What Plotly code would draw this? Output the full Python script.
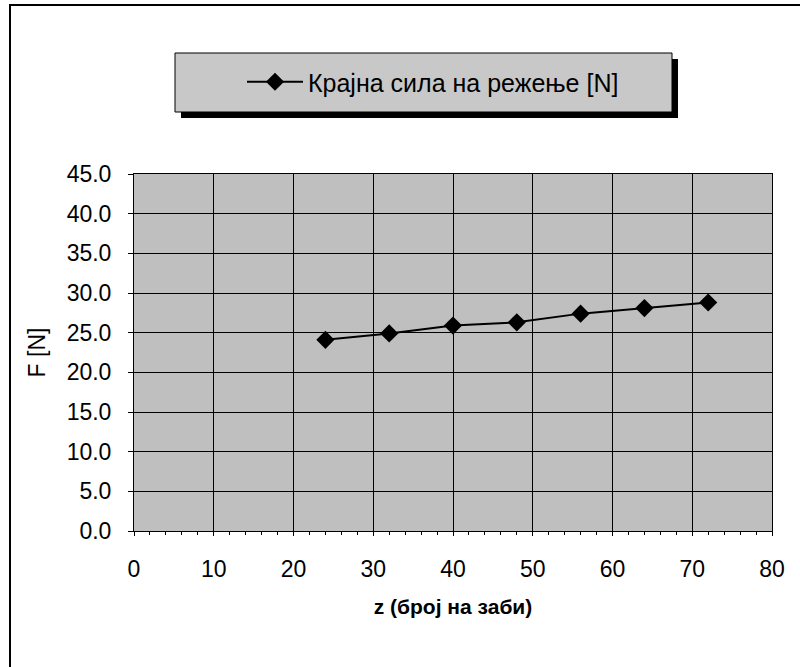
import plotly.graph_objects as go

# Data
z_teeth = [24, 32, 40, 48, 56, 64, 72]
force_n = [24.1, 24.9, 25.9, 26.3, 27.4, 28.1, 28.8]
series_name = "Крајна сила на режење [N]"
x_title = "z (број на заби)"
y_title = "F [N]"
x_ticks = [0, 10, 20, 30, 40, 50, 60, 70, 80]
y_ticks = [0, 5, 10, 15, 20, 25, 30, 35, 40, 45]

FONT = "Arial, 'Liberation Sans', sans-serif"

# plot area in pixels
L, R, T, B = 134, 772, 174, 531
W, H = 800, 667


def px_x(p):
    return (p - L) / (R - L)


def px_y(p):
    return (B - p) / (B - T)


fig = go.Figure()
fig.add_trace(go.Scatter(
    x=z_teeth, y=force_n, mode="lines+markers", name=series_name,
    line=dict(color="black", width=2),
    marker=dict(symbol="diamond", size=14, color="black"),
    showlegend=True,
))

shapes = [
    # outer frame
    dict(type="rect", xref="paper", yref="paper",
         x0=px_x(10), x1=px_x(815), y0=px_y(690), y1=px_y(5),
         line=dict(color="black", width=2), fillcolor="rgba(0,0,0,0)", layer="below"),
    # legend shadow
    dict(type="rect", xref="paper", yref="paper",
         x0=px_x(181), x1=px_x(678), y0=px_y(118), y1=px_y(59),
         line=dict(width=0), fillcolor="black", layer="below"),
    # legend box
    dict(type="rect", xref="paper", yref="paper",
         x0=px_x(175), x1=px_x(672), y0=px_y(112), y1=px_y(53),
         line=dict(color="black", width=1), fillcolor="#c8c8c8", layer="below"),
]

fig.update_layout(
    width=W, height=H,
    margin=dict(l=L, r=W - R, t=T, b=H - B, autoexpand=False),
    paper_bgcolor="white",
    plot_bgcolor="#bfbfbf",
    font=dict(family=FONT, color="black", size=23),
    shapes=shapes,
    showlegend=True,
    legend=dict(
        x=px_x(242), y=px_y(82), xanchor="left", yanchor="middle",
        bgcolor="rgba(0,0,0,0)", borderwidth=0,
        font=dict(size=25, family=FONT, color="black"),
        itemwidth=56,
    ),
    xaxis=dict(
        range=[0, 80], tickvals=x_ticks, ticktext=[str(v) for v in x_ticks],
        showgrid=True, gridcolor="black", gridwidth=1,
        showline=True, linecolor="black", linewidth=1, mirror=True,
        ticks="outside", ticklen=4, tickcolor="black",
        minor=dict(dtick=2, ticks="outside", ticklen=3, tickcolor="black", showgrid=False),
        ticklabelstandoff=13,
        tickfont=dict(size=23),
        zeroline=False,
        title=dict(text="<b>" + x_title + "</b>", font=dict(size=21), standoff=18),
    ),
    yaxis=dict(
        range=[0, 45], tickvals=y_ticks, ticktext=[f"{v:.1f}" for v in y_ticks],
        showgrid=True, gridcolor="black", gridwidth=1,
        showline=True, linecolor="black", linewidth=1, mirror=True,
        ticks="outside", ticklen=5, tickcolor="black",
        ticklabelstandoff=12,
        tickfont=dict(size=23),
        zeroline=False,
        title=dict(text=y_title, font=dict(size=23), standoff=14),
    ),
)

fig.write_html("out.html")
